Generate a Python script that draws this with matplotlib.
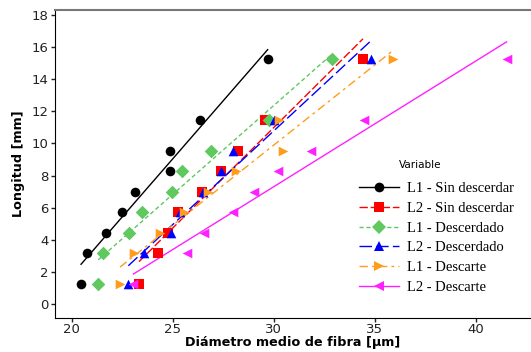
import matplotlib
matplotlib.use("Agg")
import matplotlib.pyplot as plt
import numpy as np

# longitudes comunes (mm)
longitud = [1.27, 3.17, 4.44, 5.71, 6.98, 8.25, 9.52, 11.43, 15.24]

# diámetro medio de fibra (µm) por serie
l1_sin = [20.46, 20.77, 21.72, 22.47, 23.15, 24.87, 24.87, 26.37, 29.70]
l2_sin = [23.33, 24.28, 24.78, 25.27, 26.45, 27.40, 28.24, 29.57, 34.42]
l1_desc = [21.31, 21.53, 22.83, 23.49, 24.94, 25.44, 26.90, 29.77, 32.90]
l2_desc = [22.80, 23.60, 24.91, 25.38, 26.51, 27.40, 28.00, 30.02, 34.80]
l1_descarte = [22.39, 23.08, 24.37, 25.58, 26.74, 28.12, 30.47, 30.24, 35.93]
l2_descarte = [23.05, 25.72, 26.55, 27.96, 29.00, 30.21, 31.87, 34.47, 41.53]

series = [
    ("L1 - Sin descerdar", l1_sin, "black", "o", "-"),
    ("L2 - Sin descerdar", l2_sin, "red", "s", (0, (6, 2))),
    ("L1 - Descerdado", l1_desc, "#5fc85f", "D", (0, (3, 2))),
    ("L2 - Descerdado", l2_desc, "blue", "^", (0, (9, 3))),
    ("L1 - Descarte", l1_descarte, "#ff9c1a", ">", (0, (6, 3, 2, 3))),
    ("L2 - Descarte", l2_descarte, "#ff20ff", "<", "-"),
]

fig = plt.figure(figsize=(5.31, 3.52), dpi=100)
ax = fig.add_axes([55 / 531, 34 / 352, 1 - 55 / 531, 308 / 352])

handles = []
y = np.array(longitud)
for name, xs, col, mk, ls in series:
    x = np.array(xs)
    ax.scatter(x, y, color=col, marker=mk, s=48, zorder=3, linewidths=0)
    m, b = np.polyfit(x, y, 1)
    xx = np.array([x.min(), x.max()])
    ax.plot(xx, m * xx + b, color=col, ls=ls, lw=1, zorder=2)
    h, = ax.plot([], [], color=col, ls=ls, lw=1, marker=mk, markersize=7,
                 markeredgewidth=0)
    handles.append(h)

ax.set_xlim(19.17, 42.74)
ax.set_ylim(-0.85, 18.28)
ax.set_xticks([20, 25, 30, 35, 40])
ax.set_yticks(range(0, 19, 2))
ax.tick_params(labelsize=9.5, direction="out", length=3, width=1, pad=1.5,
               colors="#222222")
ax.tick_params(axis="x", pad=0.5)
ax.spines["right"].set_visible(False)
ax.spines["top"].set_color("#777777")
ax.spines["top"].set_linewidth(1.5)

ax.set_xlabel("Diámetro medio de fibra [µm]", fontsize=9.2, fontweight="bold", labelpad=0)
ax.set_ylabel("Longitud [mm]", fontsize=9.2, fontweight="bold", labelpad=5)

leg = fig.legend(handles, [s[0] for s in series], loc="upper left",
                 bbox_to_anchor=(352 / 531, 1 - 175 / 352),
                 frameon=False, handlelength=2.75, handletextpad=0.5,
                 labelspacing=0.44, borderpad=0,
                 prop={"family": "Liberation Serif", "size": 10.5})
fig.text(399 / 531, 1 - 165 / 352, "Variable", fontsize=7.5, ha="left", va="center")

fig.savefig("out.png", dpi=100)
